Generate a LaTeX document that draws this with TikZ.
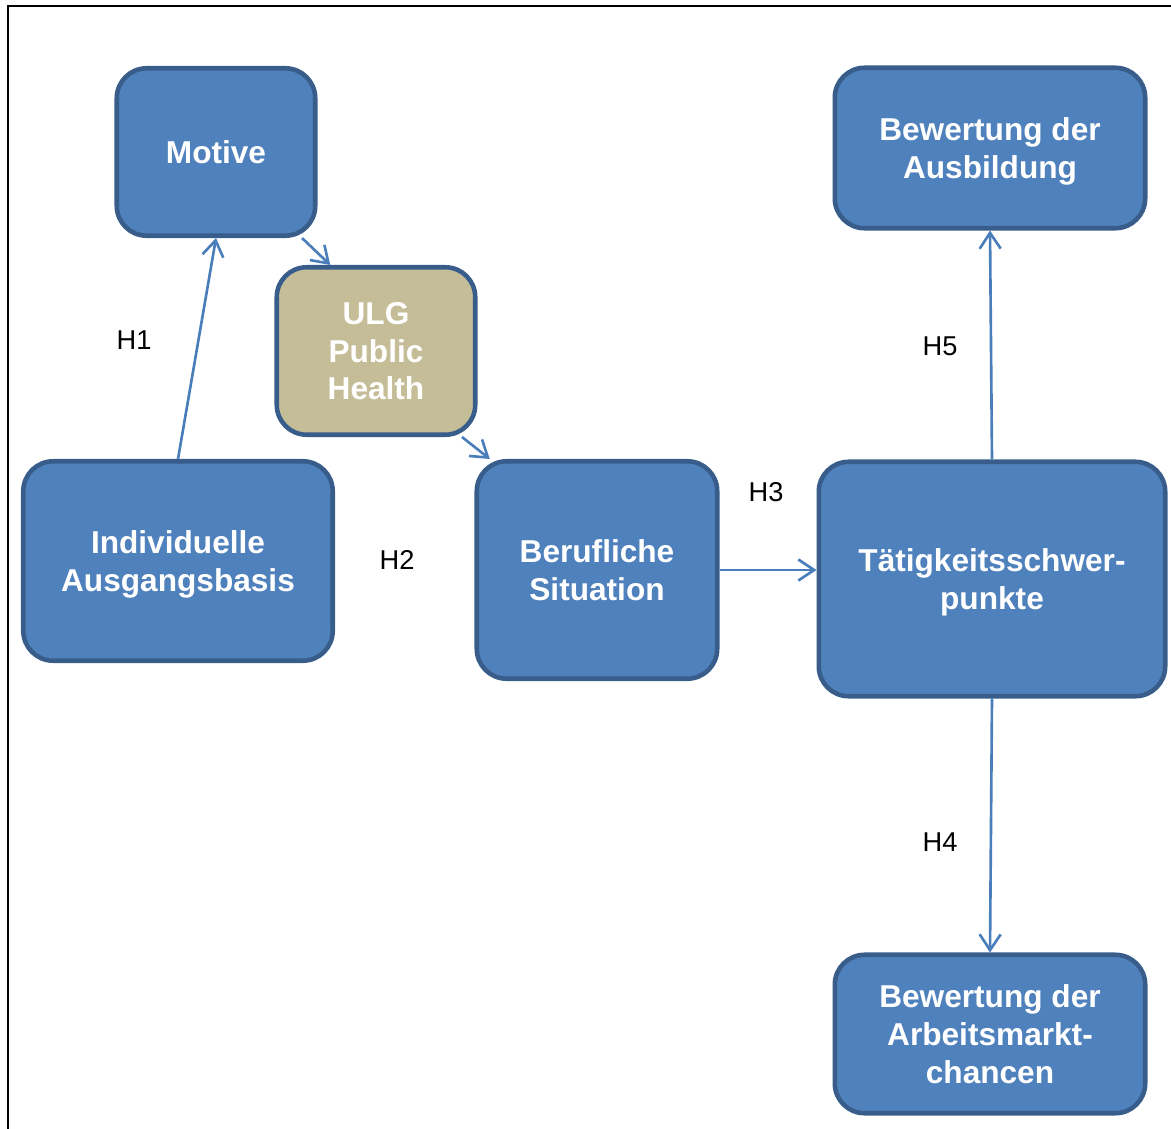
\documentclass[tikz,border=0pt]{standalone}
\usepackage{fontspec}
\setmainfont{Liberation Sans}
\usepackage{tikz}
\usetikzlibrary{arrows.meta,shapes}
\definecolor{boxblue}{HTML}{4F81BD}
\definecolor{boxline}{HTML}{385D8A}
\definecolor{boxtan}{HTML}{C4BD97}
\definecolor{arrowblue}{HTML}{4A7EBB}
\tikzstyle{box}=[rectangle,rounded corners=17pt,draw=boxline,fill=boxblue,
  			  line width=2.6pt,text=white,align=center,inner sep=2pt,
  			  text depth=0pt,font=\bfseries\fontsize{18}{21.5}\selectfont]
\tikzstyle{ulgbox}=[box,fill=boxtan]
\tikzstyle{hlabel}=[font=\fontsize{15.5}{18}\selectfont,inner sep=1pt]
\tikzstyle{link}=[->,line width=1.5pt,draw=arrowblue]

\begin{document}
\begin{tikzpicture}[x=0.02cm,y=-0.02cm,
                    >={Straight Barb[length=9pt,width=12pt]}]
	\useasboundingbox (0,0) rectangle (1171,1129);
	\draw[line width=1.2pt] (8,1135) -- (8,6) -- (1180,6);

	\node[box,minimum width=3.97cm,minimum height=3.35cm] (motive) at (216,152) {Motive};
	\node[ulgbox,minimum width=3.97cm,minimum height=3.35cm] (ulg) at (376,351) {ULG\\Public\\Health};
	\node[box,minimum width=6.19cm,minimum height=3.99cm] (indiv) at (178,561) {Individuelle\\Ausgangsbasis};
	\node[box,minimum width=4.81cm,minimum height=4.35cm] (beruf) at (597,570) {Berufliche\\Situation};
	\node[box,minimum width=6.93cm,minimum height=4.69cm] (taet) at (992,579) {Tätigkeitsschwer-\\punkte};
	\node[box,minimum width=6.21cm,minimum height=3.21cm] (ausb) at (990,148) {Bewertung der\\Ausbildung};
	\node[box,minimum width=6.21cm,minimum height=3.17cm] (markt) at (990,1034) {Bewertung der\\Arbeitsmarkt-\\chancen};

	\node[hlabel] (h1) at (134,340) {H1};
	\node[hlabel] (h2) at (397,560) {H2};
	\node[hlabel] (h3) at (766,492) {H3};
	\node[hlabel] (h5) at (940,346) {H5};
	\node[hlabel] (h4) at (940,842) {H4};

	\draw[link] (indiv.north) -- (motive.south);
	\draw[link] (motive.-45) -- (ulg.118);
	\draw[link] (ulg.-45) -- (beruf.134);
	\draw[link] (beruf.east) -- (beruf.east -| taet.west);
	\draw[link] (taet.north) -- (ausb.south);
	\draw[link] (taet.south) -- (markt.north);
\end{tikzpicture}
\end{document}
